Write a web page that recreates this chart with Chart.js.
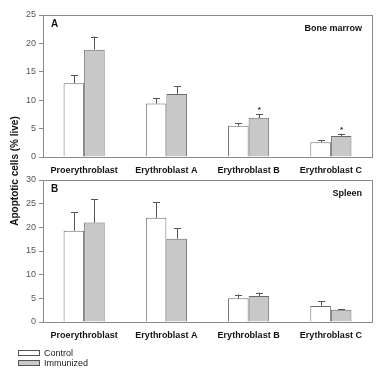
<!DOCTYPE html>
<html>
<head>
<meta charset="utf-8">
<script src="https://cdn.jsdelivr.net/npm/chart.js@4/dist/chart.umd.min.js"></script>
<style>
  body { margin: 0; background: #fff; }
  .wrap { position: relative; width: 388px; height: 372px; }
  canvas { position: absolute; left: 0; top: 0; }
</style>
</head>
<body>
<div class="wrap">
  <canvas id="chart-medula" width="388" height="372"></canvas>
  <canvas id="chart-baco" width="388" height="372"></canvas>
</div>
<script>
const FONT = '"Liberation Sans", Arial, sans-serif';
const categorias = ['Proerythroblast', 'Erythroblast A', 'Erythroblast B', 'Erythroblast C'];
const series = ['Control', 'Immunized'];

// A - bone marrow
const medulaControl = [13.0, 9.4, 5.5, 2.6];
const medulaControlErro = [1.4, 1.0, 0.4, 0.35];
const medulaImunizado = [18.9, 11.1, 6.9, 3.7];
const medulaImunizadoErro = [2.3, 1.4, 0.6, 0.4];
const medulaEstrelas = [false, false, true, true];
const medulaTicks = [0, 5, 10, 15, 20, 25];

// B - spleen
const bacoControl = [19.3, 22.0, 5.0, 3.4];
const bacoControlErro = [3.9, 3.3, 0.8, 1.0];
const bacoImunizado = [21.0, 17.6, 5.5, 2.6];
const bacoImunizadoErro = [5.0, 2.2, 0.7, 0.15];
const bacoEstrelas = [false, false, false, false];
const bacoTicks = [0, 5, 10, 15, 20, 25, 30];

const CORES = ['#ffffff', '#c8c8c8'];
const LINHA = '#6a6a6a';

// error bars (only upward), frame, labels
const extrasPlugin = {
  id: 'extras',
  afterDatasetsDraw(chart, args, opts) {
    const ctx = chart.ctx;
    const y = chart.scales.y;
    const area = chart.chartArea;
    ctx.save();
    chart.data.datasets.forEach((ds, i) => {
      const meta = chart.getDatasetMeta(i);
      meta.data.forEach((bar, j) => {
        const topo = y.getPixelForValue(ds.data[j] + ds.erros[j]);
        ctx.strokeStyle = '#555';
        ctx.lineWidth = 1;
        ctx.beginPath();
        ctx.moveTo(Math.round(bar.x) + 0.5, bar.y);
        ctx.lineTo(Math.round(bar.x) + 0.5, topo);
        ctx.moveTo(Math.round(bar.x) - 3, Math.round(topo) + 0.5);
        ctx.lineTo(Math.round(bar.x) + 4, Math.round(topo) + 0.5);
        ctx.stroke();
        if (ds.estrelas && ds.estrelas[j]) {
          ctx.fillStyle = '#222';
          ctx.font = 'bold 8px ' + FONT;
          ctx.textAlign = 'center';
          ctx.fillText('*', bar.x + 0.5, topo - 2);
        }
      });
    });
    ctx.strokeStyle = '#8a8a8a';
    ctx.lineWidth = 1;
    ctx.strokeRect(Math.round(area.left) + 0.5, Math.round(area.top) + 0.5,
      Math.round(area.right - area.left), Math.round(area.bottom - area.top));
    ctx.fillStyle = '#111';
    ctx.font = 'bold 10px ' + FONT;
    ctx.textBaseline = 'middle';
    ctx.textAlign = 'left';
    ctx.fillText(opts.letra, area.left + 8, area.top + 9);
    ctx.font = 'bold 9px ' + FONT;
    ctx.textAlign = 'right';
    ctx.fillText(opts.local, area.right - 10, area.top + 14);

    if (opts.legenda) {
      ctx.font = '9px ' + FONT;
      ctx.textAlign = 'left';
      chart.data.datasets.forEach((ds, i) => {
        const ly = 350 + i * 10;
        ctx.fillStyle = ds.backgroundColor;
        ctx.fillRect(18, ly, 21, 5);
        ctx.strokeStyle = '#555';
        ctx.strokeRect(18.5, ly + 0.5, 21, 5);
        ctx.fillStyle = '#222';
        ctx.fillText(ds.label, 44, ly + 3.5);
      });
      ctx.save();
      ctx.translate(15, 171);
      ctx.rotate(-Math.PI / 2);
      ctx.textAlign = 'center';
      ctx.font = 'bold 10px ' + FONT;
      ctx.fillStyle = '#111';
      ctx.fillText('Apoptotic cells (% live)', 0, 0);
      ctx.restore();
    }
    ctx.restore();
  }
};

const criarGrafico = (canvas, control, controlErro, imunizado, imunizadoErro, estrelas, ticks, padding, letra, local, legenda) => {
  new Chart(canvas, {
    type: 'bar',
    data: {
      labels: categorias,
      datasets: [{
        label: series[0],
        data: control,
        erros: controlErro,
        backgroundColor: CORES[0],
        borderColor: LINHA,
        borderWidth: 1,
        categoryPercentage: 0.5,
        barPercentage: 1
      }, {
        label: series[1],
        data: imunizado,
        erros: imunizadoErro,
        estrelas: estrelas,
        backgroundColor: CORES[1],
        borderColor: LINHA,
        borderWidth: 1,
        categoryPercentage: 0.5,
        barPercentage: 1
      }]
    },
    options: {
      responsive: false,
      animation: false,
      layout: { padding: padding },
      plugins: {
        legend: { display: false },
        tooltip: { enabled: false },
        extras: { letra: letra, local: local, legenda: legenda }
      },
      scales: {
        x: {
          grid: { display: false },
          border: { color: '#8a8a8a' },
          ticks: { color: '#111', font: { family: FONT, size: 9, weight: 'bold' }, padding: 0, maxRotation: 0 },
          afterFit: (scale) => { scale.height = 23; }
        },
        y: {
          min: 0,
          max: ticks[ticks.length - 1],
          afterBuildTicks: (scale) => { scale.ticks = ticks.map(v => ({ value: v })); },
          grid: { drawOnChartArea: false, drawTicks: true, tickLength: 4, color: '#8a8a8a' },
          border: { color: '#8a8a8a' },
          ticks: { color: '#555', font: { family: FONT, size: 9 }, padding: 3 },
          afterFit: (scale) => { scale.width = 43; }
        }
      }
    },
    plugins: [extrasPlugin]
  });
};

criarGrafico(document.getElementById('chart-medula'), medulaControl, medulaControlErro,
  medulaImunizado, medulaImunizadoErro, medulaEstrelas, medulaTicks,
  { top: 15, right: 16, bottom: 192, left: 0 }, 'A', 'Bone marrow', false);

criarGrafico(document.getElementById('chart-baco'), bacoControl, bacoControlErro,
  bacoImunizado, bacoImunizadoErro, bacoEstrelas, bacoTicks,
  { top: 180, right: 16, bottom: 27, left: 0 }, 'B', 'Spleen', true);
</script>
</body>
</html>
